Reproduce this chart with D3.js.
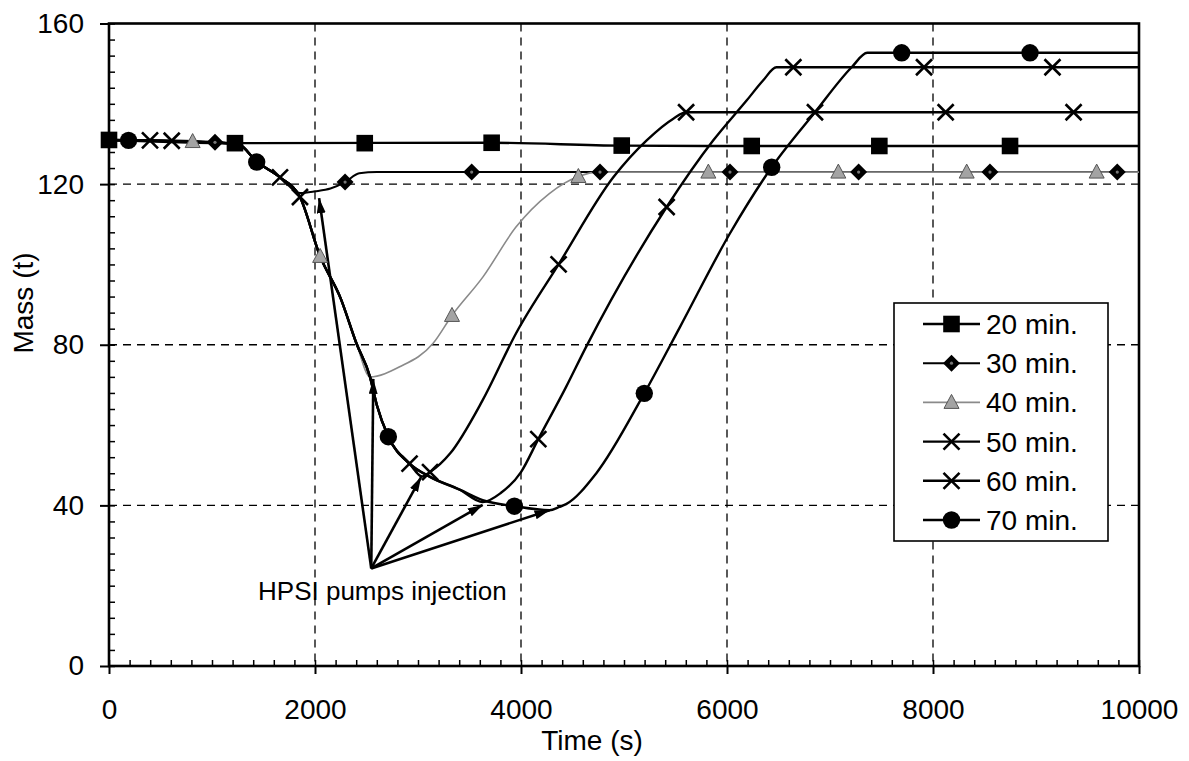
<!DOCTYPE html>
<html><head><meta charset="utf-8">
<script src="https://cdn.jsdelivr.net/npm/d3@7"></script>
<style>
html,body{margin:0;padding:0;background:#fff;}
svg{display:block;}
text{font-family:"Liberation Sans",Arial,Helvetica,sans-serif;fill:#000;}
</style></head><body>
<svg id="chart" width="1189" height="761"></svg>
<script>
// ---------------- data ----------------
const seriesNames = ["20 min.", "30 min.", "40 min.", "50 min.", "60 min.", "70 min."];
const xTicks = [0, 2000, 4000, 6000, 8000, 10000];
const yTicks = [0, 40, 80, 120, 160];
const xGrid = [2000, 4000, 6000, 8000];
const yGrid = [40, 80, 120];
const xLabel = "Time (s)";
const yLabel = "Mass (t)";
const annotation = "HPSI pumps injection";

const line20 = [[0,131.0],[600,130.5],[1223,130.2],[3715,130.3],[4978,129.6],[6240,129.5],[10000,129.5]];
const marks20 = [[0,131.0],[1223,130.2],[2483,130.2],[3715,130.3],[4978,129.6],[6240,129.5],[7479,129.5],[8748,129.5]];

const line30 = [[0,131.0],[1029,130.4],[1250,130.0],[1434,125.6],[1660,121.7],[1854,117.8],[2000,118.2],[2150,118.9],[2292,120.5],[2430,122.7],[2600,123.0],[10000,123.0]];
const marks30 = [[1029,130.4],[2292,120.5],[3521,123.0],[4767,123.0],[6029,123.0],[7278,123.0],[8553,123.0],[9789,123.0]];

const line40 = [[0,131.0],[812,130.6],[1250,130.0],[1434,125.6],[1660,121.7],[1854,116.8],[2050,102.0],[2250,91.5],[2400,80.5],[2534,72.0],[2822,74.5],[3145,80.3],[3330,87.3],[3631,96.9],[3951,109.3],[4272,117.6],[4557,121.9],[4750,123.0],[10000,123.0]];
const marks40 = [[812,130.6],[2050,102.0],[3330,87.3],[4557,121.9],[5819,123.0],[7081,123.0],[8327,123.0],[9589,123.0]];

const line50 = [[0,131.0],[609,130.8],[1250,130.0],[1434,125.6],[1660,121.7],[1854,116.8],[2050,102.0],[2250,91.5],[2400,80.5],[2534,72.0],[2600,65.0],[2712,57.1],[2918,50.4],[3040,47.2],[3117,48.3],[3311,52.9],[3628,66.2],[3951,82.8],[4365,100.0],[4896,121.7],[5220,130.9],[5479,136.3],[5603,137.9],[10000,137.9]];
const marks50 = [[609,130.8],[1854,116.8],[3117,48.3],[4365,100.0],[5603,137.9],[6854,137.9],[8123,137.9],[9365,137.9]];

const line60 = [[0,131.0],[398,130.9],[1250,130.0],[1434,125.6],[1660,121.7],[1854,116.8],[2050,102.0],[2250,91.5],[2400,80.5],[2534,72.0],[2600,65.0],[2712,57.1],[2918,50.4],[3117,47.1],[3405,43.9],[3628,40.8],[3800,43.0],[4000,48.3],[4168,56.5],[4438,69.5],[4631,79.4],[5414,114.3],[5867,130.9],[6190,140.8],[6350,145.8],[6480,149.1],[10000,149.1]];
const marks60 = [[398,130.9],[1660,121.7],[2918,50.4],[4168,56.5],[5414,114.3],[6644,149.1],[7913,149.1],[9160,149.1]];

const line70 = [[0,131.0],[190,130.9],[1250,130.0],[1434,125.6],[1660,121.7],[1854,116.8],[2050,102.0],[2250,91.5],[2400,80.5],[2534,72.0],[2600,65.0],[2712,57.1],[2918,50.4],[3117,47.1],[3405,43.9],[3628,41.3],[3936,39.8],[4277,38.8],[4372,39.6],[4438,40.3],[4728,47.9],[5197,67.9],[5543,84.4],[6028,107.7],[6434,124.2],[6854,137.9],[7210,149.1],[7362,152.7],[10000,152.7]];
const marks70 = [[190,130.9],[1434,125.5],[2712,57.1],[3936,39.8],[5197,67.9],[6434,124.2],[7696,152.7],[8942,152.7]];

const arrowFrom = [2546, 24.3];
const arrowTo = [[2040,116.5],[2566,71.5],[3031,47.1],[3628,40.1],[4277,38.8]];
const annotationAt = [1447, 16.4];

// ---------------- drawing ----------------
const series = [
  {name: seriesNames[0], line: line20, marks: marks20, shape: "square",   color: "#000", width: 2.4},
  {name: seriesNames[1], line: line30, marks: marks30, shape: "diamond",  color: "#000", width: 2.0},
  {name: seriesNames[2], line: line40, marks: marks40, shape: "triangle", color: "#8a8a8a", width: 1.6},
  {name: seriesNames[3], line: line50, marks: marks50, shape: "x",        color: "#000", width: 2.4},
  {name: seriesNames[4], line: line60, marks: marks60, shape: "x",        color: "#000", width: 2.4},
  {name: seriesNames[5], line: line70, marks: marks70, shape: "circle",   color: "#000", width: 2.4}
];

const svg = d3.select("#chart");
const x = d3.scaleLinear().domain([0, 10000]).range([109, 1139]);
const y = d3.scaleLinear().domain([0, 160]).range([666, 23.5]);
const FONT = '"Liberation Sans", Arial, Helvetica, sans-serif';

// grid
svg.append("g").selectAll("line").data(xGrid).join("line")
  .attr("x1", d => x(d)).attr("x2", d => x(d))
  .attr("y1", y(160)).attr("y2", y(0))
  .attr("stroke", "#000").attr("stroke-width", 1.3).attr("stroke-dasharray", "8,6");
svg.append("g").selectAll("line").data(yGrid).join("line")
  .attr("x1", x(0)).attr("x2", x(10000))
  .attr("y1", d => y(d)).attr("y2", d => y(d))
  .attr("stroke", "#000").attr("stroke-width", 1.3).attr("stroke-dasharray", "8,6");

// minor ticks (inside)
const xMinor = d3.range(0, 10001, 200);
const yMinor = d3.range(0, 161, 4);
const gxm = svg.append("g").attr("transform", `translate(0,${y(0)})`)
  .call(d3.axisBottom(x).tickValues(xMinor).tickSize(-6).tickFormat(""));
gxm.select(".domain").remove();
gxm.selectAll("line").attr("stroke-width", 1.5);
const gym = svg.append("g").attr("transform", `translate(${x(0)},0)`)
  .call(d3.axisLeft(y).tickValues(yMinor).tickSize(-6).tickFormat(""));
gym.select(".domain").remove();
gym.selectAll("line").attr("stroke-width", 1.5);

// major axes
const gx = svg.append("g").attr("transform", `translate(0,${y(0)})`)
  .call(d3.axisBottom(x).tickValues(xTicks).tickSize(8).tickPadding(25).tickFormat(d3.format("d")));
gx.select(".domain").remove();
gx.selectAll("line").attr("stroke-width", 2);
gx.selectAll("text").style("font-size", "28px").style("font-family", FONT);

const gy = svg.append("g").attr("transform", `translate(${x(0)},0)`)
  .call(d3.axisLeft(y).tickValues(yTicks).tickSize(9).tickPadding(16).tickFormat(d3.format("d")));
gy.select(".domain").remove();
gy.selectAll("line").attr("stroke-width", 2);
gy.selectAll("text").style("font-size", "28px").style("font-family", FONT);

// frame
svg.append("rect")
  .attr("x", x(0)).attr("y", y(160))
  .attr("width", x(10000) - x(0)).attr("height", y(0) - y(160))
  .attr("fill", "none").attr("stroke", "#000").attr("stroke-width", 2.6);

// axis titles
svg.append("text").attr("x", 592).attr("y", 750)
  .attr("text-anchor", "middle").style("font-size", "28px").text(xLabel);
svg.append("text").attr("transform", "translate(33,303) rotate(-90)")
  .attr("text-anchor", "middle").style("font-size", "28px").text(yLabel);

// lines
const lineGen = d3.line().x(d => x(d[0])).y(d => y(d[1])).curve(d3.curveMonotoneX);
svg.append("g").selectAll("path").data(series).join("path")
  .attr("d", d => lineGen(d.line))
  .attr("fill", "none")
  .attr("stroke", d => d.color)
  .attr("stroke-width", d => d.width)
  .attr("stroke-linejoin", "round");

// arrows
const defs = svg.append("defs");
defs.append("marker").attr("id", "arrowhead")
  .attr("markerUnits", "userSpaceOnUse")
  .attr("markerWidth", 16).attr("markerHeight", 10)
  .attr("refX", 15).attr("refY", 4.5).attr("orient", "auto")
  .append("path").attr("d", "M0,0 L15,4.5 L0,9 Z").attr("fill", "#000");
svg.append("g").selectAll("line").data(arrowTo).join("line")
  .attr("x1", x(arrowFrom[0])).attr("y1", y(arrowFrom[1]))
  .attr("x2", d => x(d[0])).attr("y2", d => y(d[1]))
  .attr("stroke", "#000").attr("stroke-width", 2.6)
  .attr("marker-end", "url(#arrowhead)");

// markers
function drawMarker(g, shape) {
  if (shape === "square") {
    g.append("rect").attr("x", -8.3).attr("y", -8.3).attr("width", 16.6).attr("height", 16.6).attr("fill", "#000");
  } else if (shape === "diamond") {
    g.append("path").attr("d", "M0,-8.5 L8.5,0 L0,8.5 L-8.5,0 Z").attr("fill", "#000");
    g.append("circle").attr("r", 1.6).attr("fill", "#777");
  } else if (shape === "triangle") {
    g.append("path").attr("d", "M0,-8 L7.5,6 L-7.5,6 Z").attr("fill", "#a3a3a3").attr("stroke", "#555").attr("stroke-width", 1);
  } else if (shape === "x") {
    g.append("path").attr("d", "M-8,-8 L8,8 M-8,8 L8,-8").attr("stroke", "#000").attr("stroke-width", 2.6).attr("fill", "none");
  } else if (shape === "circle") {
    g.append("circle").attr("r", 8.7).attr("fill", "#000");
  }
}
series.forEach(s => {
  svg.append("g").selectAll("g").data(s.marks).join("g")
    .attr("transform", d => `translate(${x(d[0])},${y(d[1])})`)
    .each(function () { drawMarker(d3.select(this), s.shape); });
});

// annotation
svg.append("text").attr("x", x(annotationAt[0])).attr("y", y(annotationAt[1]))
  .style("font-size", "26px").text(annotation);

// legend
const lg = svg.append("g");
lg.append("rect").attr("x", 894).attr("y", 303).attr("width", 214).attr("height", 238)
  .attr("fill", "#fff").attr("stroke", "#000").attr("stroke-width", 1.6);
series.forEach((s, i) => {
  const cy = 324 + i * 39.2;
  const row = lg.append("g");
  row.append("line").attr("x1", 923).attr("x2", 980).attr("y1", cy).attr("y2", cy)
    .attr("stroke", s.color).attr("stroke-width", s.width);
  drawMarker(row.append("g").attr("transform", `translate(951.5,${cy})`), s.shape);
  row.append("text").attr("x", 986).attr("y", cy).attr("dy", "0.36em")
    .style("font-size", "28px").text(s.name);
});
</script>
</body></html>
